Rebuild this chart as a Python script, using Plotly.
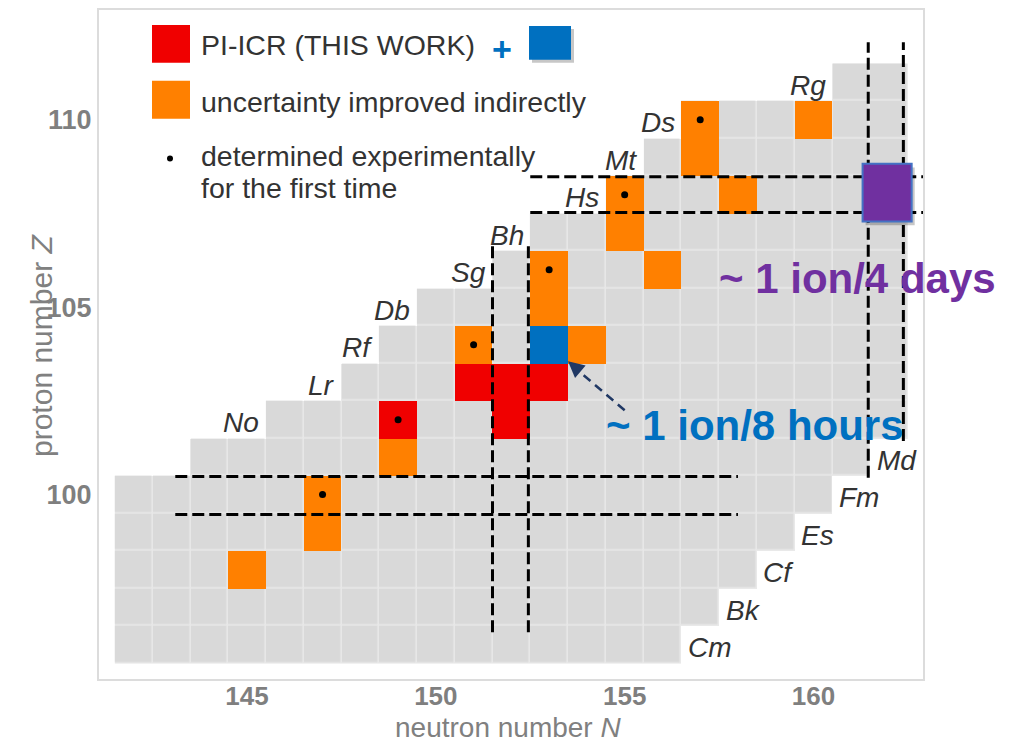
import plotly.graph_objects as go

# ---------------- data ----------------
N_MIN, N_MAX = 142, 162
Z_MIN, Z_MAX = 96, 111

# rows of the chart of nuclides: proton number, first / last neutron number shown, element symbol
row_Z    = [96, 97, 98, 99, 100, 101, 102, 103, 104, 105, 106, 107, 108, 109, 110, 111]
row_Nmin = [142, 142, 142, 142, 142, 144, 146, 148, 149, 150, 152, 153, 155, 156, 157, 161]
row_Nmax = [156, 157, 158, 159, 160, 161, 162, 162, 162, 162, 162, 162, 162, 162, 162, 162]
row_sym  = ["Cm", "Bk", "Cf", "Es", "Fm", "Md", "No", "Lr", "Rf", "Db", "Sg", "Bh", "Hs", "Mt", "Ds", "Rg"]

# PI-ICR (this work)
red_N = [149, 151, 152, 153, 152]
red_Z = [102, 103, 103, 103, 102]
blue_N = [153]
blue_Z = [104]
# uncertainty improved indirectly
orange_N = [147, 147, 145, 149, 151, 154, 153, 153, 156, 155, 155, 158, 157, 157, 160]
orange_Z = [100, 99, 98, 101, 104, 104, 105, 106, 106, 107, 108, 108, 109, 110, 110]
# determined experimentally for the first time
first_N = [147, 149, 151, 153, 155, 157]
first_Z = [100, 102, 104, 106, 108, 110]

# dashed guide lines (N or Z position, start, end)
hline_Z = [100.48, 99.47, 108.48, 107.53]
hline_N0 = [143.1, 143.1, 152.5, 152.5]
hline_N1 = [158.0, 158.0, 162.9, 162.9]
vline_N = [151.5, 152.45, 161.45, 162.38]
vline_Z0 = [96.33, 96.33, 100.45, 101.43]
vline_Z1 = [106.67, 106.67, 112.07, 112.07]

# target region (purple)
target_N = [161.3, 162.6]
target_Z = [107.29, 108.83]

X_RANGE = [141.08, 162.9]
Y_RANGE = [95.08, 112.93]
x_ticks = [145, 150, 155, 160]
y_ticks = [100, 105, 110]

FONT = "Liberation Sans, Arial, sans-serif"
GRAY = "#d9d9d9"
GAPCOL = "#e9e9e9"
ORANGE = "#ff8000"
RED = "#f00000"
BLUE = "#0070c0"
PURPLE = "#7030a0"

Ns = list(range(N_MIN, N_MAX + 1))
Zs = list(range(Z_MIN, Z_MAX + 1))


def grid(cells):
    g = [[None] * len(Ns) for _ in Zs]
    for n, z in cells:
        g[z - Z_MIN][n - N_MIN] = 1
    return g


gray_cells = []
for z, a, b in zip(row_Z, row_Nmin, row_Nmax):
    for n in range(a, b + 1):
        gray_cells.append((n, z))

fig = go.Figure()


def add_cells(cells, color, gap):
    fig.add_trace(go.Heatmap(
        x=Ns, y=Zs, z=grid(cells), zmin=0, zmax=1,
        colorscale=[[0, color], [1, color]], showscale=False,
        xgap=gap, ygap=gap, hoverinfo="skip"))


add_cells(gray_cells, GAPCOL, 0)
add_cells(gray_cells, GRAY, 1.5)
add_cells(list(zip(orange_N, orange_Z)), ORANGE, 0)
add_cells(list(zip(red_N, red_Z)), RED, 0)
add_cells(list(zip(blue_N, blue_Z)), BLUE, 0)

fig.add_trace(go.Scatter(
    x=first_N, y=first_Z, mode="markers",
    marker=dict(color="black", size=7), hoverinfo="skip", showlegend=False))

shapes = []
dash = dict(color="black", width=3, dash="12px,5px")
for z, a, b in zip(hline_Z, hline_N0, hline_N1):
    shapes.append(dict(type="line", xref="x", yref="y", x0=a, x1=b, y0=z, y1=z, line=dash))
for n, a, b in zip(vline_N, vline_Z0, vline_Z1):
    shapes.append(dict(type="line", xref="x", yref="y", x0=n, x1=n, y0=a, y1=b, line=dash))

# purple target box with shadow
shapes.append(dict(type="rect", xref="x", yref="y", x0=target_N[0] + 0.08, x1=target_N[1] + 0.08,
                   y0=target_Z[0] - 0.1, y1=target_Z[1] - 0.1,
                   fillcolor="rgba(0,0,0,0.22)", line=dict(width=0)))
shapes.append(dict(type="rect", xref="x", yref="y", x0=target_N[0], x1=target_N[1],
                   y0=target_Z[0], y1=target_Z[1],
                   fillcolor=PURPLE, line=dict(color="#4472c4", width=2)))

# dashed arrow shaft toward blue cell
shapes.append(dict(type="line", xref="x", yref="y", x0=155.0, y0=102.25, x1=153.7, y1=103.37,
                   line=dict(color="#203864", width=2.5, dash="9px,6px")))

# ---- legend (window pixel -> paper coordinates; page body has an 8px margin) ----
PL, PR, PT, PB = 99, 923, 8, 679


def px2paper(px, py):
    return (px - PL) / float(PR - PL), (PB - py) / float(PB - PT)


def prect(x0, y0, x1, y1, color):
    a = px2paper(x0, y1)
    b = px2paper(x1, y0)
    shapes.append(dict(type="rect", xref="paper", yref="paper", x0=a[0], y0=a[1], x1=b[0], y1=b[1],
                       fillcolor=color, line=dict(width=0)))


prect(152, 23, 190, 61, RED)
prect(152, 79, 190, 117, ORANGE)
prect(532, 27, 574, 61, "rgba(0,0,0,0.22)")
prect(529, 24, 571, 58, BLUE)

# legend dot
dx, dy = px2paper(170, 157)
shapes.append(dict(type="circle", xref="paper", yref="paper",
                   x0=dx - 3.0 / (PR - PL), x1=dx + 3.0 / (PR - PL),
                   y0=dy - 3.0 / (PB - PT), y1=dy + 3.0 / (PB - PT),
                   fillcolor="black", line=dict(width=0)))

ann = []
# element symbols
for z, a, b, s in zip(row_Z, row_Nmin, row_Nmax, row_sym):
    if z <= 101:
        ann.append(dict(x=b + 0.5 + 0.12, y=z - 0.08, xref="x", yref="y", text="<i>%s</i>" % s,
                        xanchor="left", yanchor="middle", showarrow=False,
                        font=dict(family=FONT, size=28, color="#333333")))
    else:
        ann.append(dict(x=a - 0.5 - 0.12, y=z - 0.08, xref="x", yref="y", text="<i>%s</i>" % s,
                        xanchor="right", yanchor="middle", showarrow=False,
                        font=dict(family=FONT, size=28, color="#333333")))

# rate annotations
ann.append(dict(x=157.45, y=105.76, xref="x", yref="y", text="<b>~ 1 ion/4 days</b>",
                xanchor="left", yanchor="middle", showarrow=False,
                font=dict(family=FONT, size=42, color=PURPLE)))
ann.append(dict(x=154.45, y=101.85, xref="x", yref="y", text="<b>~ 1 ion/8 hours</b>",
                xanchor="left", yanchor="middle", showarrow=False,
                font=dict(family=FONT, size=42, color=BLUE)))
# arrow head
ann.append(dict(x=153.5, y=103.56, xref="x", yref="y", ax=153.8, ay=103.3, axref="x", ayref="y",
                text="", showarrow=True, arrowhead=2, arrowsize=1.3, arrowwidth=2.5,
                arrowcolor="#203864"))


def ptext(px, py, text, size=28.5, color="#333333", anchor="left", angle=0, vanchor="middle"):
    x, y = px2paper(px, py)
    ann.append(dict(x=x, y=y, xref="paper", yref="paper", text=text, xanchor=anchor, textangle=angle,
                    yanchor=vanchor, showarrow=False, font=dict(family=FONT, size=size, color=color)))


ptext(199, 43, "PI-ICR (THIS WORK)")
ptext(502, 47, "<b>+</b>", size=34, color=BLUE, anchor="center")
ptext(199, 100, "uncertainty improved indirectly")
ptext(199, 154, "determined experimentally")
ptext(199, 187, "for the first time")

# axis titles
ptext(508, 745, "neutron number <i>N</i>", size=28, color="#808080", anchor="center", vanchor="bottom")
ptext(42, 345, "proton number <i>Z</i>", size=30, color="#808080", anchor="center", angle=-90)

fig.update_layout(
    shapes=shapes,
    annotations=ann,
    width=1012, height=745,
    margin=dict(l=PL - 8, r=1012 - (PR - 8), t=PT - 8, b=745 - (PB - 8), pad=0),
    paper_bgcolor="white", plot_bgcolor="white",
    showlegend=False,
    font=dict(family=FONT),
    xaxis=dict(range=X_RANGE, tickvals=x_ticks, showgrid=False, zeroline=False,
               showline=True, mirror=True, linecolor="#dcdcdc", linewidth=2, ticks="", ticklen=0,
               ticklabelstandoff=-7,
               tickfont=dict(family=FONT, size=26, color="#7f7f7f", weight="bold")),
    yaxis=dict(range=Y_RANGE, tickvals=y_ticks, showgrid=False, zeroline=False,
               showline=True, mirror=True, linecolor="#dcdcdc", linewidth=2, ticks="", ticklen=0,
               tickfont=dict(family=FONT, size=27, color="#7f7f7f", weight="bold")),
)

fig.write_html("out.html")
